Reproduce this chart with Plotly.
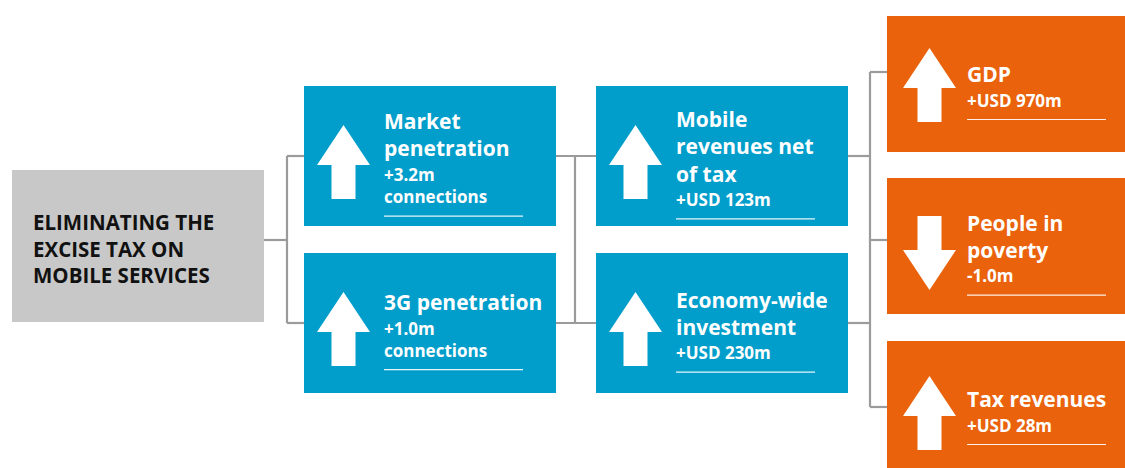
import plotly.graph_objects as go

# ---------------- data ----------------
source_lines = ["ELIMINATING THE", "EXCISE TAX ON", "MOBILE SERVICES"]

col1_titles = ["Market<br>penetration", "3G penetration"]
col1_values = ["+3.2m<br>connections", "+1.0m<br>connections"]
col1_dirs = ["up", "up"]

col2_titles = ["Mobile<br>revenues net<br>of tax", "Economy-wide<br>investment"]
col2_values = ["+USD 123m", "+USD 230m"]
col2_dirs = ["up", "up"]

col3_titles = ["GDP", "People in<br>poverty", "Tax revenues"]
col3_values = ["+USD 970m", "-1.0m", "+USD 28m"]
col3_dirs = ["up", "down", "up"]

# ---------------- style / layout ----------------
W, H = 1125, 468
BLUE = "#029ecb"
ORANGE = "#ea620b"
GREY_BOX = "#c8c8c8"
LINE = "#9b9b9b"
FONT = "Open Sans"

src_box = (12, 170, 264, 322)
col1_x, col2_x, col3_x = 304, 596, 887
box_w = 252
blue_tops, blue_h = [86, 253], 140
orange_tops, orange_h = [16, 178, 341], 136
orange_arrow_dy = [1, 7, 4]
col3_links = [72, 240, 407]

TITLE_SIZE, VALUE_SIZE = 21, 17
TITLE_STEP, VALUE_STEP, GAP = 1.3 * TITLE_SIZE, 1.3 * VALUE_SIZE, 26

fig = go.Figure()
shapes = []
annotations = []


def rect(x0, y0, x1, y1, color):
    shapes.append(dict(type="rect", xref="x", yref="y", x0=x0, y0=y0, x1=x1, y1=y1,
                       fillcolor=color, line=dict(width=0), layer="below"))


def seg(x0, y0, x1, y1, color=LINE, width=2.2):
    shapes.append(dict(type="line", xref="x", yref="y", x0=x0, y0=y0, x1=x1, y1=y1,
                       line=dict(color=color, width=width), layer="below"))


def arrow(xl, cy, direction):
    head_w, shaft_w, total_h, head_h = 53, 24, 74, 40
    cx = xl + head_w / 2
    top, bot = cy - total_h / 2, cy + total_h / 2
    if direction == "up":
        pts = [(cx, top), (xl + head_w, top + head_h), (cx + shaft_w / 2, top + head_h),
               (cx + shaft_w / 2, bot), (cx - shaft_w / 2, bot), (cx - shaft_w / 2, top + head_h),
               (xl, top + head_h)]
    else:
        pts = [(cx, bot), (xl + head_w, bot - head_h), (cx + shaft_w / 2, bot - head_h),
               (cx + shaft_w / 2, top), (cx - shaft_w / 2, top), (cx - shaft_w / 2, bot - head_h),
               (xl, bot - head_h)]
    path = "M " + " L ".join(f"{x},{y}" for x, y in pts) + " Z"
    shapes.append(dict(type="path", xref="x", yref="y", path=path,
                       fillcolor="white", line=dict(width=0), layer="above"))


def text(x, y, s, size, color="white"):
    annotations.append(dict(x=x, y=y, xref="x", yref="y", text=s, showarrow=False,
                            xanchor="left", yanchor="middle", align="left",
                            font=dict(family=FONT, size=size, color=color, weight=700)))


def box(xl, top, h, color, title, value, direction, arrow_dx, arrow_dy):
    rect(xl, top, xl + box_w, top + h, color)
    arrow(xl + arrow_dx, top + h / 2 + arrow_dy, direction)
    nt = len(title.split("<br>"))
    nv = len(value.split("<br>"))
    t_last = (nt - 1) * TITLE_STEP
    v_first = t_last + GAP
    v_last = v_first + (nv - 1) * VALUE_STEP
    off = top + h / 2 + 3 - v_last / 2
    text(xl + 78, off + t_last / 2, title, TITLE_SIZE)
    text(xl + 78, off + (v_first + v_last) / 2, value, VALUE_SIZE)
    uy = off + v_last + 19.5
    seg(xl + 80, uy, xl + 219, uy, color="rgba(255,255,255,0.9)", width=1.2)


# source box
rect(*src_box, GREY_BOX)
text(31, 248, "<br>".join(source_lines), 20.5, color="#111111")

# connectors
seg(src_box[2], 240, 287, 240)
seg(287, 156, 287, 323)
for t in blue_tops:
    cy = t + blue_h / 2
    seg(287, cy, col1_x, cy)
    seg(col1_x + box_w, cy, col2_x, cy)
    seg(col2_x + box_w, cy, 870, cy)
seg(575, 156, 575, 323)
seg(870, col3_links[0], 870, col3_links[-1])
for y in col3_links:
    seg(870, y, col3_x, y)

# boxes
for t, ti, v, d in zip(blue_tops, col1_titles, col1_values, col1_dirs):
    box(col1_x, t, blue_h, BLUE, ti, v, d, 13, 6)
for t, ti, v, d in zip(blue_tops, col2_titles, col2_values, col2_dirs):
    box(col2_x, t, blue_h, BLUE, ti, v, d, 13, 6)
for t, ti, v, d, dy in zip(orange_tops, col3_titles, col3_values, col3_dirs, orange_arrow_dy):
    box(col3_x, t, orange_h, ORANGE, ti, v, d, 16, dy)

fig.update_layout(
    width=W, height=H, margin=dict(l=0, r=0, t=0, b=0),
    paper_bgcolor="white", plot_bgcolor="white",
    xaxis=dict(range=[0, W], visible=False, fixedrange=True),
    yaxis=dict(range=[H, 0], visible=False, fixedrange=True),
    shapes=shapes, annotations=annotations, showlegend=False,
)

fig.write_html(
    "out.html",
    config={"displayModeBar": False},
    post_script="document.body.style.margin='0';document.body.style.overflow='hidden';",
)
